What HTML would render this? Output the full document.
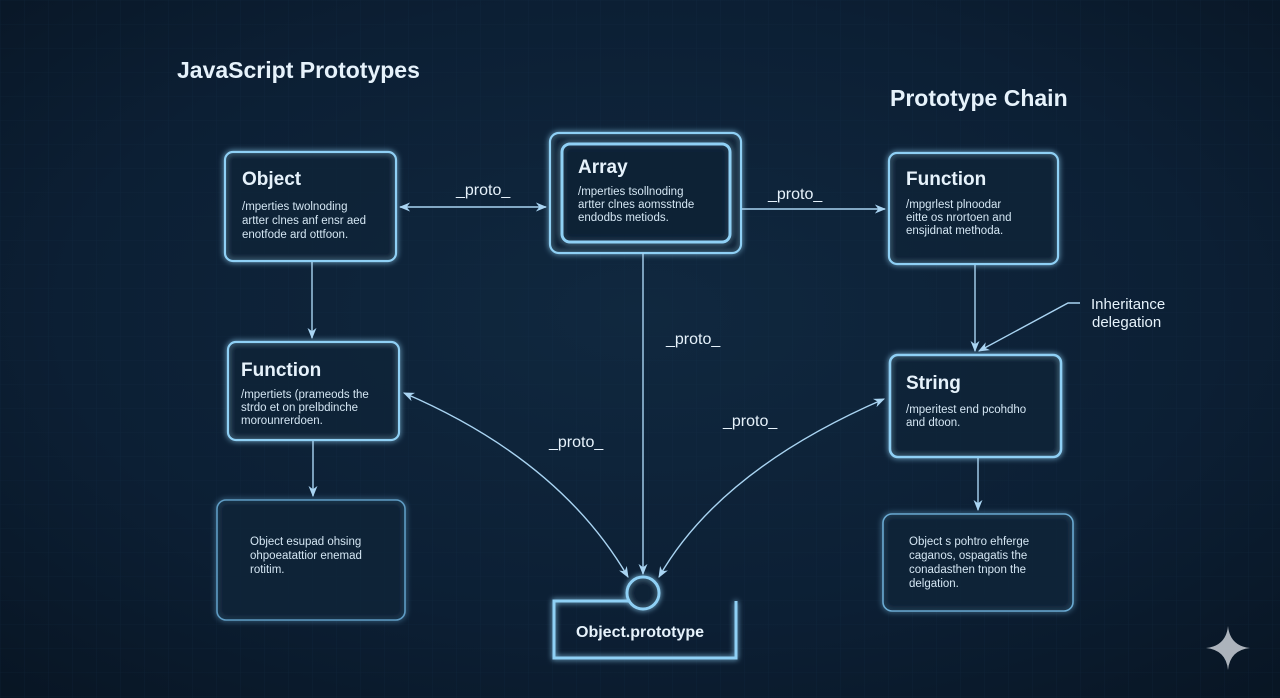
<!DOCTYPE html>
<html><head><meta charset="utf-8"><style>
html,body{margin:0;padding:0;width:1280px;height:698px;overflow:hidden;background:#0b1a2c}
svg{display:block}
text{font-family:"Liberation Sans",sans-serif;fill:#e6f2fb}
.t{font-size:19px;font-weight:bold}
.b{font-size:11.5px;fill:#d4e6f3}
.l{font-size:16px}
</style></head><body>
<svg width="1280" height="698" viewBox="0 0 1280 698">
<defs>
<radialGradient id="bg" cx="50%" cy="45%" r="75%">
<stop offset="0" stop-color="#10283f"/><stop offset="0.6" stop-color="#0c1f34"/><stop offset="1" stop-color="#081523"/>
</radialGradient>
<pattern id="grid" width="24" height="24" patternUnits="userSpaceOnUse">
<path d="M24 0H0V24" fill="none" stroke="#1a3550" stroke-width="0.6" opacity="0.4"/>
</pattern>
<filter id="glow" x="-20%" y="-20%" width="140%" height="140%">
<feGaussianBlur stdDeviation="3" result="b"/><feMerge><feMergeNode in="b"/><feMergeNode in="SourceGraphic"/></feMerge>
</filter>
<marker id="a" viewBox="0 0 10 10" refX="9" refY="5" markerWidth="8" markerHeight="8" orient="auto-start-reverse">
<path d="M0 1L10 5L0 9L3 5z" fill="#a9d4f2"/>
</marker>
</defs>
<rect width="1280" height="698" fill="url(#bg)"/>
<rect width="1280" height="698" fill="url(#grid)"/>

<text x="177" y="78" class="t" style="font-size:23px">JavaScript Prototypes</text>
<text x="890" y="106" class="t" style="font-size:23px">Prototype Chain</text>

<g fill="#0d2136" fill-opacity="0.7" stroke="#8fd0f5" stroke-width="2.2" filter="url(#glow)">
<rect x="225" y="152" width="171" height="109" rx="8"/>
<rect x="550" y="133" width="191" height="120" rx="9"/>
<rect x="562" y="144" width="168" height="98" rx="8" stroke-width="3"/>
<rect x="889" y="153" width="169" height="111" rx="8"/>
<rect x="228" y="342" width="171" height="98" rx="8"/>
<rect x="890" y="355" width="171" height="102" rx="8" stroke-width="2.6"/>
<rect x="217" y="500" width="188" height="120" rx="9" stroke="#5e9cc4" stroke-width="1.6"/>
<rect x="883" y="514" width="190" height="97" rx="9" stroke="#6aaad2" stroke-width="1.6"/>
<path d="M631 601H554V658H736V601" fill="none" stroke-width="3"/>
<circle cx="643" cy="593" r="16" fill="#0d2136" stroke-width="3"/>
</g>

<g stroke="#a9d4f2" stroke-width="1.4" fill="none">
<line x1="400" y1="207" x2="546" y2="207" marker-start="url(#a)" marker-end="url(#a)"/>
<line x1="742" y1="209" x2="885" y2="209" marker-end="url(#a)"/>
<line x1="312" y1="262" x2="312" y2="338" marker-end="url(#a)"/>
<line x1="313" y1="441" x2="313" y2="496" marker-end="url(#a)"/>
<line x1="975" y1="265" x2="975" y2="351" marker-end="url(#a)"/>
<line x1="978" y1="458" x2="978" y2="510" marker-end="url(#a)"/>
<polyline points="1080,303 1068,303 979,351" marker-end="url(#a)"/>
<line x1="643" y1="253" x2="643" y2="574" marker-end="url(#a)"/>
<path d="M404 393Q560 460 628 577" marker-start="url(#a)" marker-end="url(#a)"/>
<path d="M884 399Q720 470 659 577" marker-start="url(#a)" marker-end="url(#a)"/>
</g>

<text x="456" y="195" class="l">_proto_</text>
<text x="768" y="199" class="l">_proto_</text>
<text x="666" y="344" class="l">_proto_</text>
<text x="549" y="447" class="l">_proto_</text>
<text x="723" y="426" class="l">_proto_</text>
<text x="1091" y="309" style="font-size:15px">Inheritance</text>
<text x="1092" y="327" style="font-size:15px">delegation</text>

<text x="242" y="185" class="t">Object</text>
<text x="242" y="210" class="b">/mperties twolnoding</text>
<text x="242" y="224" class="b">artter clnes anf ensr aed</text>
<text x="242" y="238" class="b">enotfode ard ottfoon.</text>

<text x="578" y="173" class="t">Array</text>
<text x="578" y="195" class="b">/mperties tsollnoding</text>
<text x="578" y="208" class="b">artter clnes aomsstnde</text>
<text x="578" y="221" class="b">endodbs metiods.</text>

<text x="906" y="185" class="t">Function</text>
<text x="906" y="208" class="b">/mpgrlest plnoodar</text>
<text x="906" y="221" class="b">eitte os nrortoen and</text>
<text x="906" y="234" class="b">ensjidnat methoda.</text>

<text x="241" y="376" class="t">Function</text>
<text x="241" y="398" class="b">/mpertiets (prameods the</text>
<text x="241" y="411" class="b">strdo et on prelbdinche</text>
<text x="241" y="424" class="b">morounrerdoen.</text>

<text x="906" y="389" class="t">String</text>
<text x="906" y="413" class="b">/mperitest end pcohdho</text>
<text x="906" y="426" class="b">and dtoon.</text>

<text x="250" y="545" class="b">Object esupad ohsing</text>
<text x="250" y="559" class="b">ohpoeatattior enemad</text>
<text x="250" y="573" class="b">rotitim.</text>

<text x="909" y="545" class="b">Object s pohtro ehferge</text>
<text x="909" y="559" class="b">caganos, ospagatis the</text>
<text x="909" y="573" class="b">conadasthen tnpon the</text>
<text x="909" y="587" class="b">delgation.</text>

<text x="576" y="637" class="t" style="font-size:16px">Object.prototype</text>

<path d="M1228 626Q1230 646 1250 648Q1230 650 1228 670Q1226 650 1206 648Q1226 646 1228 626z" fill="#c9cfd6" opacity="0.85"/>
</svg>
</body></html>
